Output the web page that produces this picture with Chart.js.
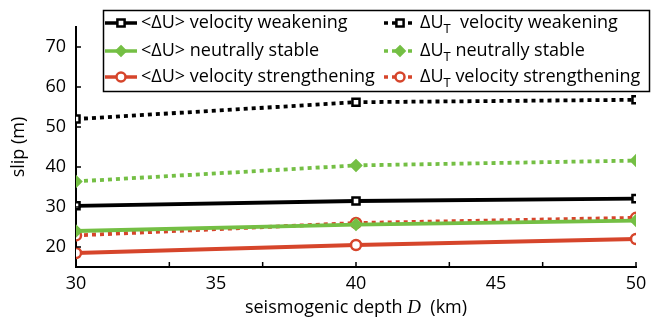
<!DOCTYPE html>
<html>
<head>
<meta charset="utf-8">
<script src="https://cdn.jsdelivr.net/npm/chart.js@4"></script>
<style>
  body { margin: 0; background: #fff; }
</style>
</head>
<body>
<canvas id="myChart" width="656" height="320"></canvas>
<script>
// seismogenic depth (km)
let depths = [30, 40, 50];
// mean slip <ΔU> (m)
let meanWeak = [30.3, 31.5, 32.1];
let meanNeutral = [24.0, 25.6, 26.6];
let meanStrong = [18.5, 20.5, 22.0];
// total slip ΔU_T (m)
let totalWeak = [52.0, 56.2, 56.8];
let totalNeutral = [36.4, 40.4, 41.6];
let totalStrong = [22.9, 26.0, 27.3];
// tick labels
let xTicks = [30, 35, 40, 45, 50];
let yTicks = [20, 30, 40, 50, 60, 70];

let black = '#000000';
let green = '#74bf44';
let red = '#d6452b';
let font = "'Open Sans', sans-serif";

function pts(ys) {
    return depths.map((d, i) => ({ x: d, y: ys[i] }));
}

function series(label, ys, color, shape, dotted) {
    return {
        label: label,
        data: pts(ys),
        borderColor: color,
        backgroundColor: '#fff',
        borderWidth: 3.8,
        borderDash: dotted ? [4, 4] : [],
        pointStyle: shape,
        pointRadius: 5,
        pointBorderWidth: 2.5,
        pointBackgroundColor: shape === 'rectRot' ? color : '#fff',
        pointBorderColor: color,
        fill: false
    };
}

// inward tick marks (x ticks every 10/3 km, like the original)
let tickMarks = {
    id: 'tickMarks',
    afterDraw(chart) {
        let ctx = chart.ctx, xs = chart.scales.x, ys = chart.scales.y, a = chart.chartArea;
        ctx.save();
        ctx.strokeStyle = black;
        ctx.lineWidth = 1.5;
        ctx.beginPath();
        for (let i = 0; i <= 6; i++) {
            let px = xs.getPixelForValue(30 + i * 10 / 3);
            ctx.moveTo(px, a.bottom);
            ctx.lineTo(px, a.bottom - 5);
        }
        yTicks.forEach(v => {
            let py = ys.getPixelForValue(v);
            ctx.moveTo(a.left, py);
            ctx.lineTo(a.left + 5, py);
        });
        ctx.stroke();

        // x axis title with italic D
        let parts = [['seismogenic depth ', '18px ' + font], ['D', 'italic 19px "Liberation Serif", serif'], ['  (km)', '18px ' + font]];
        let total = 0;
        parts.forEach(p => { ctx.font = p[1]; total += ctx.measureText(p[0]).width; });
        let x = (a.left + a.right) / 2 - total / 2;
        ctx.fillStyle = black;
        ctx.textBaseline = 'middle';
        parts.forEach(p => { ctx.font = p[1]; ctx.fillText(p[0], x, 308); x += ctx.measureText(p[0]).width; });
        ctx.restore();
    }
};

// boxed two-column legend
let legendBox = {
    id: 'legendBox',
    afterDraw(chart) {
        let ctx = chart.ctx;
        ctx.save();
        ctx.fillStyle = '#fff';
        ctx.fillRect(103, 10, 547, 82);
        ctx.strokeStyle = black;
        ctx.lineWidth = 1.5;
        ctx.strokeRect(103.5, 10.5, 546, 81);
        let rows = [23, 51, 77];
        chart.data.datasets.forEach((ds, i) => {
            let col = Math.floor(i / 3), y = rows[i % 3];
            let x0 = col === 0 ? 105 : 384;
            ctx.strokeStyle = ds.borderColor;
            ctx.lineWidth = 3.5;
            ctx.setLineDash(ds.borderDash);
            ctx.beginPath();
            ctx.moveTo(x0, y);
            ctx.lineTo(x0 + 32, y);
            ctx.stroke();
            ctx.setLineDash([]);
            // marker
            ctx.lineWidth = 2.5;
            ctx.fillStyle = ds.pointBackgroundColor;
            ctx.strokeStyle = ds.pointBorderColor;
            let cx = x0 + 16, r = 4.5;
            ctx.beginPath();
            if (ds.pointStyle === 'rect') ctx.rect(cx - r * 0.8, y - r * 0.8, r * 1.6, r * 1.6);
            else if (ds.pointStyle === 'rectRot') { ctx.moveTo(cx, y - r); ctx.lineTo(cx + r, y); ctx.lineTo(cx, y + r); ctx.lineTo(cx - r, y); ctx.closePath(); }
            else ctx.arc(cx, y, r, 0, Math.PI * 2);
            ctx.fill();
            ctx.stroke();
            // text, with subscript T
            ctx.fillStyle = black;
            ctx.textBaseline = 'middle';
            let tx = x0 + 36;
            let lab = ds.label;
            if (lab.indexOf('_T') >= 0) {
                let [pre, post] = lab.split('_T');
                ctx.font = '18px ' + font;
                ctx.fillText(pre, tx, y);
                tx += ctx.measureText(pre).width;
                ctx.font = '13px ' + font;
                ctx.fillText('T', tx, y + 6);
                tx += ctx.measureText('T').width;
                ctx.font = '18px ' + font;
                ctx.fillText(post, tx, y);
            } else {
                ctx.font = '18px ' + font;
                ctx.fillText(lab, tx, y);
            }
        });
        ctx.restore();
    }
};

let myChart = document.getElementById('myChart').getContext('2d');

let chart = new Chart(myChart, {
    type: 'line',
    data: {
        datasets: [
            series('<ΔU> velocity weakening', meanWeak, black, 'rect', false),
            series('<ΔU> neutrally stable', meanNeutral, green, 'rectRot', false),
            series('<ΔU> velocity strengthening', meanStrong, red, 'circle', false),
            series('ΔU_T  velocity weakening', totalWeak, black, 'rect', true),
            series('ΔU_T neutrally stable', totalNeutral, green, 'rectRot', true),
            series('ΔU_T velocity strengthening', totalStrong, red, 'circle', true)
        ]
    },
    options: {
        responsive: false,
        animation: false,
        devicePixelRatio: 1,
        layout: { padding: { top: 27, right: 20, left: 0, bottom: 0 } },
        plugins: {
            legend: { display: false },
            tooltip: { enabled: false }
        },
        scales: {
            x: {
                type: 'linear',
                min: 30,
                max: 50,
                afterBuildTicks: s => { s.ticks = xTicks.map(v => ({ value: v })); },
                afterFit: s => { s.height = 53; },
                grid: { display: false, drawTicks: false },
                border: { display: true, color: black, width: 2 },
                ticks: { color: black, font: { family: font, size: 18 }, padding: 6 }
            },
            y: {
                min: 15,
                max: 75,
                afterBuildTicks: s => { s.ticks = yTicks.map(v => ({ value: v })); },
                afterFit: s => { s.width = 76; },
                grid: { display: false, drawTicks: false },
                border: { display: true, color: black, width: 2 },
                ticks: { color: black, font: { family: font, size: 18 }, padding: 10 },
                title: { display: true, text: 'slip (m)', color: black, font: { family: font, size: 18 }, padding: { top: 8, bottom: 0 } }
            }
        }
    },
    plugins: [tickMarks, legendBox]
});
</script>
</body>
</html>
